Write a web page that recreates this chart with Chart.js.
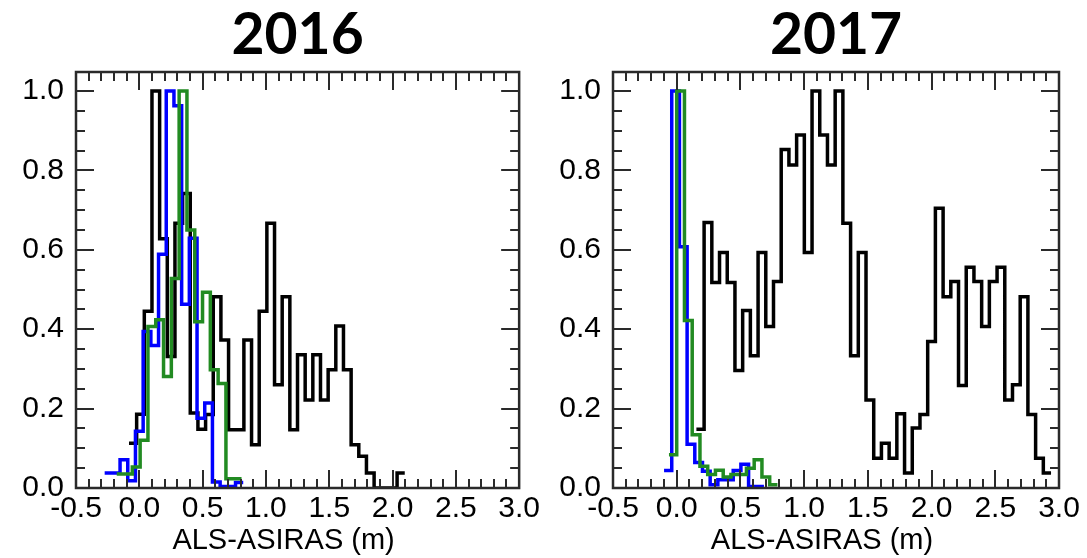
<!DOCTYPE html>
<html>
<head>
<meta charset="utf-8">
<script src="https://cdn.jsdelivr.net/npm/chart.js@4.4.1/dist/chart.umd.min.js"></script>
<style>
    html, body { margin: 0; padding: 0; background: #fff; }
    #wrap { position: relative; width: 1087px; height: 558px; }
    canvas { position: absolute; top: 0; }
    #c2016 { left: 0; }
    #c2017 { left: 543px; }
</style>
</head>
<body>
<div id="wrap">
    <canvas id="c2016" width="543" height="558"></canvas>
    <canvas id="c2017" width="544" height="558"></canvas>
</div>
<script>
// axis ticks
const xTicks = [-0.5, 0.0, 0.5, 1.0, 1.5, 2.0, 2.5, 3.0];
const yTicks = [0.0, 0.2, 0.4, 0.6, 0.8, 1.0];
const xAxisTitle = 'ALS-ASIRAS (m)';

// 2016 normalised histograms (left edge of first bin, bin width, heights)
const black2016Start = -0.0815, black2016Width = 0.0605;
const black2016 = [0.113, 0.186, 0.445, 1.0, 0.628, 0.331, 0.667, 0.742, 0.189, 0.148,
    0.185, 0.482, 0.373, 0.147, 0.147, 0.373, 0.109, 0.445, 0.667, 0.26,
    0.482, 0.147, 0.336, 0.222, 0.336, 0.222, 0.298, 0.408, 0.298, 0.109,
    0.08, 0.038, 0, 0, 0, 0.038];
const blue2016Start = -0.2736, blue2016Width = 0.0608;
const blue2016 = [0.038, 0.038, 0.071, 0.018, 0.143, 0.394, 0.359, 0.589, 1.0, 0.963,
    0.463, 0.629, 0.176, 0.214, 0.015, 0.004, 0.004, 0.014];
const green2016Start = -0.1782, green2016Width = 0.0616;
const green2016 = [0.035, 0.035, 0.053, 0.12, 0.407, 0.424, 0.281, 0.528, 1.0, 0.65,
    0.419, 0.493, 0.298, 0.263, 0.023, 0.023];

// 2017
const black2017Start = 0.1545, black2017Width = 0.0605;
const black2017 = [0.148, 0.669, 0.518, 0.593, 0.518, 0.296, 0.447, 0.333, 0.593, 0.407,
    0.52, 0.853, 0.814, 0.889, 0.593, 1.0, 0.889, 0.814, 1.0, 0.667,
    0.333, 0.593, 0.222, 0.075, 0.113, 0.075, 0.187, 0.038, 0.151, 0.185,
    0.369, 0.705, 0.482, 0.52, 0.258, 0.556, 0.52, 0.407, 0.52, 0.556,
    0.222, 0.26, 0.482, 0.185, 0.075, 0.038];
const blue2017Start = -0.0993, blue2017Width = 0.0603;
const blue2017 = [0.044, 1.0, 0.608, 0.11, 0.064, 0.042, 0.008, 0.021, 0.021, 0.044,
    0.06, 0.004, 0.004];
const green2017Start = -0.0608, green2017Width = 0.0608;
const green2017 = [0.084, 1.0, 0.422, 0.134, 0.055, 0.034, 0.045, 0.028, 0.034, 0.034,
    0.05, 0.071, 0.028, 0.008];

const BLACK = '#000000', BLUE = '#0000ff', GREEN = '#228b22';
const LABEL_FONT = { family: 'Liberation Sans', size: 30 };

// bin edges -> points for a stepped line (last point closes the final bin)
function stepPoints(start, width, values) {
    const pts = values.map((v, i) => ({ x: start + i * width, y: v }));
    pts.push({ x: start + values.length * width, y: values[values.length - 1] });
    return pts;
}

// box frame with inward ticks on all four sides, plus the x axis title
const frameTicks = {
    id: 'frameTicks',
    afterDraw(chart) {
        const { ctx, chartArea: a, scales: { x, y } } = chart;
        ctx.save();
        ctx.strokeStyle = '#2a2a2a';
        ctx.lineWidth = 2.5;
        ctx.strokeRect(a.left, a.top, a.right - a.left, a.bottom - a.top);
        ctx.lineWidth = 2;
        ctx.beginPath();
        for (let i = -4; i < 30; i++) {
            const px = Math.round(x.getPixelForValue(i / 10));
            const len = i % 5 === 0 ? 18 : 9;
            ctx.moveTo(px, a.bottom); ctx.lineTo(px, a.bottom - len);
            ctx.moveTo(px, a.top); ctx.lineTo(px, a.top + len);
        }
        for (let j = 1; j <= 20; j++) {
            const py = Math.round(y.getPixelForValue(j * 0.05));
            const len = j % 4 === 0 ? 18 : 9;
            ctx.moveTo(a.left, py); ctx.lineTo(a.left + len, py);
            ctx.moveTo(a.right, py); ctx.lineTo(a.right - len, py);
        }
        ctx.stroke();

        ctx.fillStyle = '#000';
        ctx.font = '29px "Liberation Sans", Arial, sans-serif';
        ctx.textAlign = 'center';
        ctx.textBaseline = 'middle';
        ctx.fillText(xAxisTitle, (a.left + a.right) / 2 - 14, 541);
        ctx.restore();
    }
};

function makeChart(id, title, series, yAxisWidth, rightPad) {
    return new Chart(document.getElementById(id), {
        type: 'line',
        data: {
            datasets: series.map(s => ({
                data: stepPoints(s.start, s.width, s.values),
                borderColor: s.color,
                borderWidth: 3.5,
                borderJoinStyle: 'miter',
                stepped: 'before',
                pointRadius: 0,
                fill: false
            }))
        },
        options: {
            responsive: false,
            animation: false,
            layout: { padding: { left: 0, right: rightPad, top: 0, bottom: 0 } },
            plugins: {
                legend: { display: false },
                tooltip: { enabled: false },
                title: {
                    display: true,
                    text: title,
                    fullSize: false,
                    color: '#000',
                    font: { family: 'Lato', size: 57, weight: 'bold', lineHeight: 1 },
                    padding: { top: 7, bottom: 8 }
                }
            },
            scales: {
                x: {
                    type: 'linear',
                    min: -0.5,
                    max: 3.0,
                    afterBuildTicks: s => { s.ticks = xTicks.map(v => ({ value: v })); },
                    afterFit: s => { s.height = 70; },
                    grid: { display: false, drawTicks: false },
                    border: { display: false },
                    ticks: {
                        color: '#000',
                        font: LABEL_FONT,
                        padding: 3,
                        maxRotation: 0,
                        autoSkip: false,
                        callback: v => v.toFixed(1)
                    }
                },
                y: {
                    min: 0,
                    max: 1.048,
                    afterBuildTicks: s => { s.ticks = yTicks.map(v => ({ value: v })); },
                    afterFit: s => { s.width = yAxisWidth; },
                    grid: { display: false, drawTicks: false },
                    border: { display: false },
                    ticks: {
                        color: '#000',
                        font: LABEL_FONT,
                        padding: 12,
                        callback: v => v.toFixed(1)
                    }
                }
            }
        },
        plugins: [frameTicks]
    });
}

// green listed first so it is drawn on top, black underneath
makeChart('c2016', '2016', [
    { start: green2016Start, width: green2016Width, values: green2016, color: GREEN },
    { start: blue2016Start, width: blue2016Width, values: blue2016, color: BLUE },
    { start: black2016Start, width: black2016Width, values: black2016, color: BLACK }
], 76, 21);

makeChart('c2017', '2017', [
    { start: green2017Start, width: green2017Width, values: green2017, color: GREEN },
    { start: blue2017Start, width: blue2017Width, values: blue2017, color: BLUE },
    { start: black2017Start, width: black2017Width, values: black2017, color: BLACK }
], 70, 28);
</script>
</body>
</html>
